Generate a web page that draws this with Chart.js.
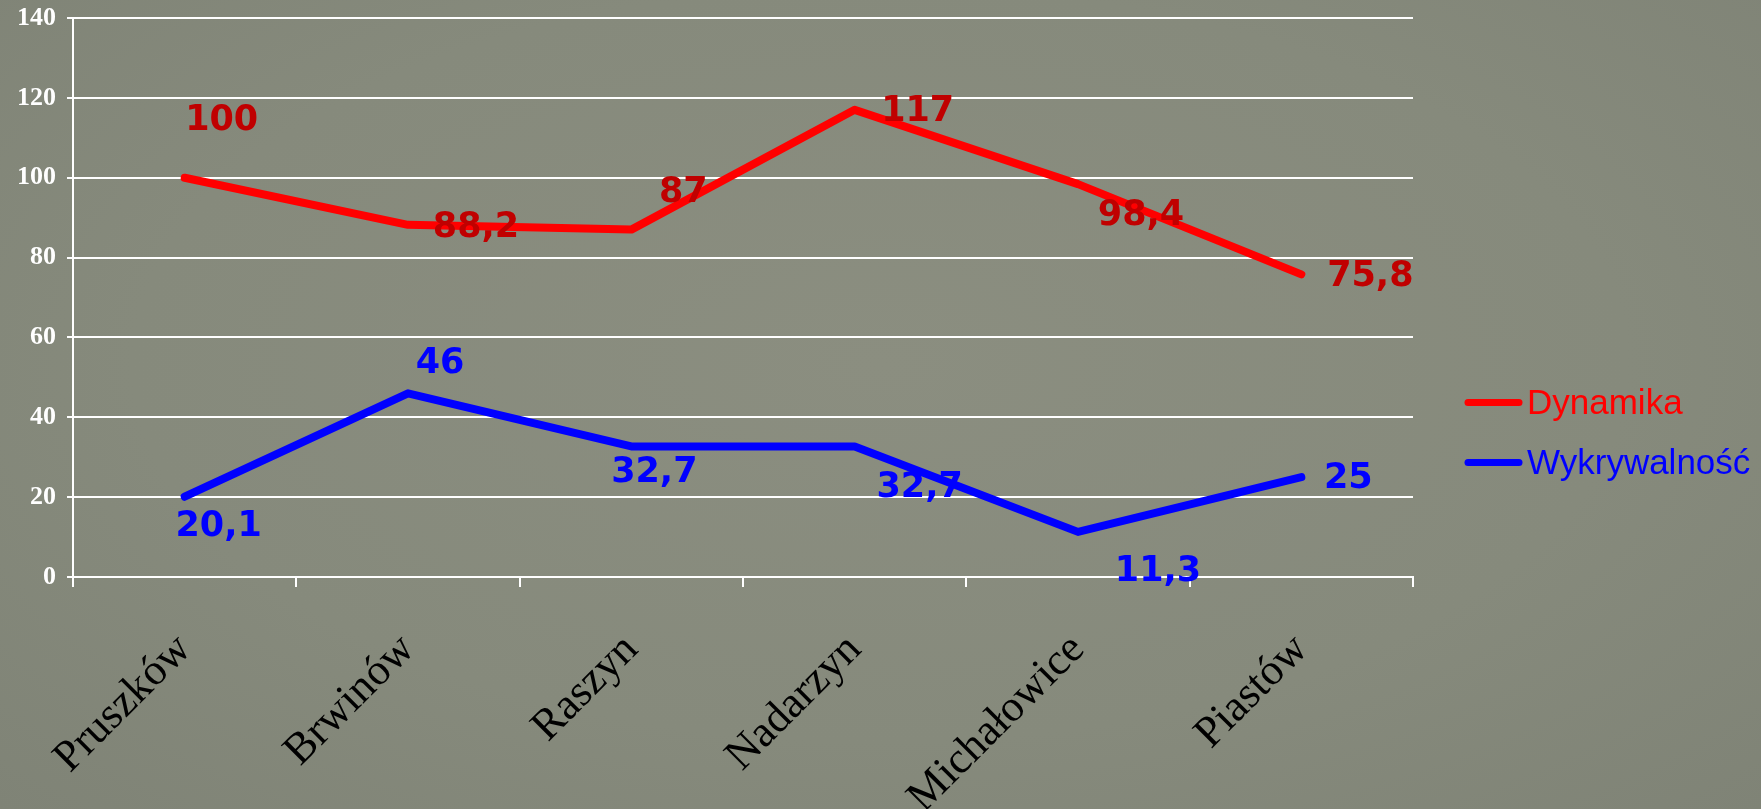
<!DOCTYPE html>
<html lang="pl">

<head>
    <meta charset="UTF-8">
    <title>Dynamika i wykrywalność</title>
    <script src="https://cdn.jsdelivr.net/npm/chart.js@4"></script>
    <style>
        html, body {
            margin: 0;
            padding: 0;
            background-color: #878a7c;
        }

        #wrap {
            width: 1761px;
            height: 809px;
            background: radial-gradient(ellipse at 50% 45%, #8b8e80 0%, #868a7c 60%, #7f8376 100%);
        }
    </style>
</head>

<body>
    <div id="wrap">
        <canvas id="myChart" width="1761" height="809"></canvas>
    </div>

    <script>
        const categories = ['Pruszków', 'Brwinów', 'Raszyn', 'Nadarzyn', 'Michałowice', 'Piastów'];
        const dynamika = [100, 88.2, 87, 117, 98.4, 75.8];
        const wykrywalnosc = [20.1, 46, 32.7, 32.7, 11.3, 25];
        const yTicks = [0, 20, 40, 60, 80, 100, 120, 140];

        // where each value label sits relative to its point (px), like on the slide
        const dynamikaLabelOffsets = [[37, -57], [68, 3], [52, -37], [63, 2], [63, 32], [69, 3]];
        const wykrywalnoscLabelOffsets = [[34, 30], [32, -29], [23, 26], [65, 41], [80, 40], [47, 2]];

        // value labels with a decimal comma
        const valueLabels = {
            id: 'valueLabels',
            afterDatasetsDraw(chart) {
                const ctx = chart.ctx;
                ctx.save();
                ctx.font = 'bold 35px "DejaVu Sans"';
                ctx.textAlign = 'center';
                ctx.textBaseline = 'middle';
                chart.data.datasets.forEach((ds, i) => {
                    const meta = chart.getDatasetMeta(i);
                    meta.data.forEach((pt, j) => {
                        const off = ds.labelOffsets[j];
                        ctx.fillStyle = ds.labelColor;
                        ctx.fillText(String(ds.data[j]).replace('.', ','), pt.x + off[0], pt.y + off[1]);
                    });
                });
                ctx.restore();
            }
        };

        // legend on the right, line + coloured text
        const sideLegend = {
            id: 'sideLegend',
            afterDraw(chart) {
                const ctx = chart.ctx;
                const x0 = chart.chartArea.right + 55;
                ctx.save();
                ctx.font = '35px "Liberation Sans"';
                ctx.textAlign = 'left';
                ctx.textBaseline = 'alphabetic';
                chart.data.datasets.forEach((ds, i) => {
                    const y = chart.height / 2 - 2 + i * 60;
                    ctx.strokeStyle = ds.borderColor;
                    ctx.lineWidth = 7;
                    ctx.lineCap = 'round';
                    ctx.beginPath();
                    ctx.moveTo(x0, y);
                    ctx.lineTo(x0 + 51, y);
                    ctx.stroke();
                    ctx.fillStyle = ds.borderColor;
                    ctx.fillText(ds.label, x0 + 59, y + 11);
                });
                ctx.restore();
            }
        };

        var ctx = document.getElementById('myChart').getContext('2d');
        var myChart = new Chart(ctx, {
            type: 'line',
            data: {
                labels: categories,
                datasets: [{
                    label: 'Dynamika',
                    data: dynamika,
                    borderColor: '#ff0000',
                    labelColor: '#c00000',
                    labelOffsets: dynamikaLabelOffsets,
                    borderWidth: 8,
                    borderCapStyle: 'round',
                    borderJoinStyle: 'round',
                    pointRadius: 0,
                    fill: false
                }, {
                    label: 'Wykrywalność',
                    data: wykrywalnosc,
                    borderColor: '#0000ff',
                    labelColor: '#0000ff',
                    labelOffsets: wykrywalnoscLabelOffsets,
                    borderWidth: 8,
                    borderCapStyle: 'round',
                    borderJoinStyle: 'round',
                    pointRadius: 0,
                    fill: false
                }]
            },
            options: {
                responsive: false,
                animation: false,
                layout: {
                    padding: { top: 18, right: 348, left: 0, bottom: 0 }
                },
                plugins: {
                    legend: { display: false },
                    tooltip: { enabled: false }
                },
                scales: {
                    x: {
                        offset: true,
                        grid: {
                            offset: true,
                            drawOnChartArea: false,
                            color: '#ffffff',
                            lineWidth: 2,
                            tickLength: 10
                        },
                        border: { color: '#ffffff', width: 2 },
                        ticks: {
                            color: '#000000',
                            font: { family: 'Liberation Serif', size: 44 },
                            minRotation: 45,
                            maxRotation: 45,
                            autoSkip: false,
                            padding: 37
                        },
                        afterFit: s => { s.height = 232; }
                    },
                    y: {
                        min: 0,
                        max: 140,
                        afterBuildTicks: s => { s.ticks = yTicks.map(v => ({ value: v })); },
                        ticks: {
                            color: '#ffffff',
                            font: { family: 'Liberation Serif', size: 26, weight: 'bold' },
                            padding: 11
                        },
                        grid: { color: '#ffffff', lineWidth: 2, tickLength: 6 },
                        border: { color: '#ffffff', width: 2 },
                        afterFit: s => {
                            s.width = 73;
                            s.paddingTop = 0;
                            s.paddingBottom = 0;
                        }
                    }
                }
            },
            plugins: [valueLabels, sideLegend]
        });
    </script>
</body>

</html>
